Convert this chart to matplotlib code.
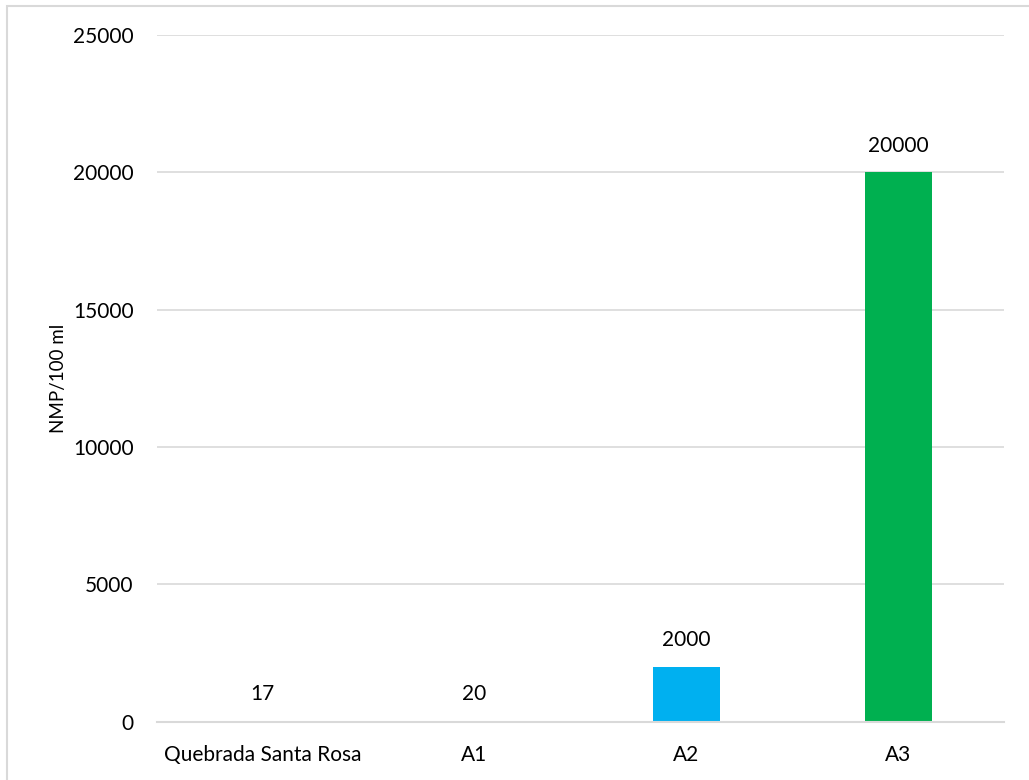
import matplotlib.pyplot as plt
from matplotlib.patches import Rectangle

categories = ['Quebrada Santa Rosa', 'A1', 'A2', 'A3']
values = [17, 20, 2000, 20000]
bar_colors = ['#4472C4', '#ED7D31', '#00B0F0', '#00B050']
y_ticks = [0, 5000, 10000, 15000, 20000, 25000]

plt.rcParams['font.family'] = ['Lato', 'DejaVu Sans']

fig = plt.figure(figsize=(10.29, 7.80), dpi=100)
ax = fig.add_axes([0.1521, 0.075, 0.8236, 0.8801])

# light frame around the chart area (cropped on right/bottom like the source)
fig.patches.append(Rectangle((6.5 / 1029, -0.1), 1.2, 1 - 6.5 / 780 + 0.1,
                             transform=fig.transFigure, fill=False,
                             edgecolor='#D9D9D9', linewidth=1.5))

x = list(range(len(categories)))
# bars below the baseline spine so the tiny ones stay hidden like in the source
bars = ax.bar(x, values, width=0.316, color=bar_colors, zorder=2)

for xi, v in zip(x, values):
    ax.annotate(str(v), (xi, v), xytext=(0, 12), textcoords='offset points',
                ha='center', va='bottom', fontsize=15, color='#000000')

ax.set_xlim(-0.5, 3.5)
ax.set_ylim(0, 25000)
ax.set_yticks(y_ticks)
ax.set_yticklabels([str(t) for t in y_ticks])
ax.set_xticks(x)
ax.set_xticklabels(categories)
ax.tick_params(axis='both', length=0, labelsize=15, colors='#000000')
ax.tick_params(axis='y', pad=16.5)
ax.tick_params(axis='x', pad=17)

ax.grid(axis='y', color='#D9D9D9', linewidth=1.2, zorder=0)
ax.set_axisbelow(True)
for s in ['top', 'right', 'left']:
    ax.spines[s].set_visible(False)
ax.spines['bottom'].set_color('#D9D9D9')
ax.spines['bottom'].set_linewidth(1.5)
ax.spines['bottom'].set_zorder(3)

ax.set_ylabel('NMP/100 ml', fontsize=13.5)
ax.yaxis.set_label_coords(-0.106, 0.5)

fig.savefig('out.png', dpi=100)
